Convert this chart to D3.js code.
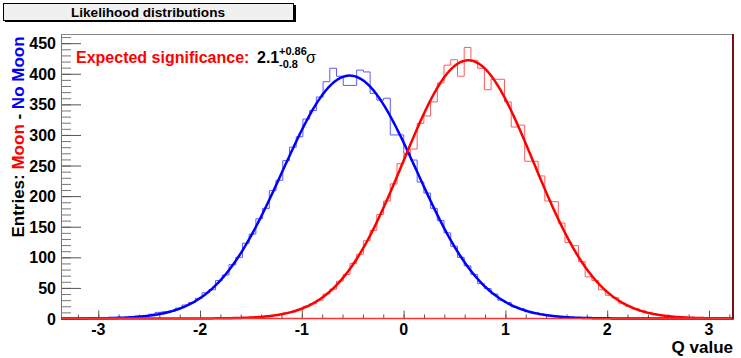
<!DOCTYPE html>
<html lang="en">
<head>
    <meta charset="UTF-8">
    <title>Likelihood distributions</title>
    <script src="https://d3js.org/d3.v7.min.js"></script>
    <style>
        body { margin: 0; background: #fff; }
        text { font-family: "Liberation Sans", Arial, sans-serif; }
    </style>
</head>
<body>
<script>
// axis range and binning (100 bins over the full x range)
var xRange = [-3.366, 3.236]
var yRange = [0, 465]
var nBins = 100

// histogram contents, No Moon (blue) and Moon (red)
var noMoonCounts = [0,0,0,0,0,0,1,1,2,1,3,4,4,7,10,11,12,17,22,26,
    33,42,47,62,71,88,100,123,138,163,180,209,226,258,280,297,326,340,362,387,
    409,396,381,381,406,403,368,357,360,300,300,270,259,223,205,180,160,140,118,100,
    86,72,57,49,40,30,26,19,16,11,9,7,5,4,3,2,1,1,1,0,
    0,0,0,0,0,0,0,0,0,0,0,0,0,0,0,0,0,0,0,0]
var moonCounts = [0,0,0,0,0,0,0,0,0,0,0,0,0,0,0,0,0,0,0,0,
    0,0,0,0,0,0,1,1,2,2,3,5,6,9,11,14,20,24,30,40,
    48,61,72,90,105,127,144,170,192,220,253,268,277,319,331,354,385,414,423,396,
    443,422,409,374,391,391,354,313,316,257,257,233,192,191,156,124,119,93,68,62,
    47,38,34,25,20,16,12,9,7,5,4,3,2,1,1,0,0,0,0,0]

// gaussian fit parameters: constant, mean, sigma
var noMoonFit = [397, -0.53, 0.66]
var moonFit = [422, 0.635, 0.64]

var xTicks = [-3, -2, -1, 0, 1, 2, 3]
var yTicks = [0, 50, 100, 150, 200, 250, 300, 350, 400, 450]

var W = 741, H = 358
var frame = {left: 61, right: 733, top: 34, bottom: 318.5}

var svg = d3.select("body")
    .append("svg")
    .attr("width", W)
    .attr("height", H)

var x = d3.scaleLinear().domain(xRange).range([frame.left, frame.right])
var y = d3.scaleLinear().domain(yRange).range([frame.bottom, frame.top])

//title box
svg.append("rect").attr("x", 5).attr("y", 5).attr("width", 291).attr("height", 17).attr("fill", "#000")
svg.append("rect").attr("x", 3.5).attr("y", 3.5).attr("width", 290).attr("height", 17)
    .attr("fill", "#f0f0f0").attr("stroke", "#000").attr("stroke-width", 1)
svg.append("text").attr("x", 148).attr("y", 17).attr("text-anchor", "middle")
    .attr("font-size", 13.6).attr("font-weight", "bold").text("Likelihood distributions")

//frame top line
svg.append("line").attr("x1", frame.left).attr("x2", frame.right)
    .attr("y1", frame.top + 0.5).attr("y2", frame.top + 0.5)
    .attr("stroke", "#888").attr("stroke-width", 1)

// y axis ticks (pointing inward)
var yAxis = d3.axisRight(y).tickValues(yTicks).tickSize(20).tickFormat("")
var yMinor = d3.axisRight(y).tickValues(d3.range(0, 461, 10)).tickSize(10).tickFormat("")
svg.append("g").attr("transform", "translate(" + frame.left + ",0)").call(yMinor)
    .call(g => g.select(".domain").remove())
    .selectAll("line").attr("stroke", "#777")
svg.append("g").attr("transform", "translate(" + frame.left + ",0)").call(yAxis)
    .call(g => g.select(".domain").remove())
    .selectAll("line").attr("stroke", "#555")
svg.append("line").attr("x1", frame.left + 0.5).attr("x2", frame.left + 0.5)
    .attr("y1", frame.top).attr("y2", frame.bottom).attr("stroke", "#777")

// y tick labels
svg.append("g").selectAll("text").data(yTicks).enter().append("text")
    .attr("x", 56).attr("y", d => y(d) + 6)
    .attr("text-anchor", "end").attr("font-size", 16).attr("font-weight", "bold")
    .text(d => d)

// x axis ticks (pointing up)
var minorX = d3.range(-3.2, 3.21, 0.2).map(v => Math.round(v * 10) / 10)
var xMinor = d3.axisTop(x).tickValues(minorX).tickSize(4).tickFormat("")
var xAxis = d3.axisTop(x).tickValues(xTicks).tickSize(8).tickFormat("")
svg.append("g").attr("transform", "translate(0," + frame.bottom + ")").call(xMinor)
    .call(g => g.select(".domain").remove())
    .selectAll("line").attr("stroke", "#555")
svg.append("g").attr("transform", "translate(0," + frame.bottom + ")").call(xAxis)
    .call(g => g.select(".domain").remove())
    .selectAll("line").attr("stroke", "#555")

svg.append("g").selectAll("text").data(xTicks).enter().append("text")
    .attr("x", d => x(d)).attr("y", 335)
    .attr("text-anchor", "middle").attr("font-size", 16).attr("font-weight", "bold")
    .text(d => d)

svg.append("text").attr("x", 733).attr("y", 353).attr("text-anchor", "end")
    .attr("font-size", 17).attr("font-weight", "bold").text("Q value")

// y title
var ytitle = svg.append("text")
    .attr("transform", "translate(24,137) rotate(-90)")
    .attr("text-anchor", "middle").attr("font-size", 17).attr("font-weight", "bold")
ytitle.append("tspan").attr("fill", "#000").text("Entries: ")
ytitle.append("tspan").attr("fill", "#ff0000").text("Moon")
ytitle.append("tspan").attr("fill", "#000").text(" - ")
ytitle.append("tspan").attr("fill", "#0000ff").text("No Moon")

// histogram as a step outline
var binW = (xRange[1] - xRange[0]) / nBins
function stepPath(counts) {
    var pts = []
    counts.forEach(function(c, i) {
        pts.push([x(xRange[0] + i * binW), y(c)])
        pts.push([x(xRange[0] + (i + 1) * binW), y(c)])
    })
    return d3.line()(pts)
}

function gaus(p) {
    return function(v) { return p[0] * Math.exp(-0.5 * Math.pow((v - p[1]) / p[2], 2)) }
}
function fitPath(p) {
    var f = gaus(p)
    var xs = d3.range(xRange[0], xRange[1], 0.01).concat([xRange[1]])
    return d3.line().x(d => x(d)).y(d => y(f(d)))(xs)
}

svg.append("path").attr("d", stepPath(noMoonCounts))
    .attr("fill", "none").attr("stroke", "#5a5aff").attr("stroke-width", 1)
svg.append("path").attr("d", stepPath(moonCounts))
    .attr("fill", "none").attr("stroke", "#ff5a5a").attr("stroke-width", 1)

svg.append("path").attr("d", fitPath(noMoonFit))
    .attr("fill", "none").attr("stroke", "#0000ff").attr("stroke-width", 2.5)
svg.append("path").attr("d", fitPath(moonFit))
    .attr("fill", "none").attr("stroke", "#ff0000").attr("stroke-width", 2.5)

// x axis line and right edge
svg.append("line").attr("x1", frame.left).attr("x2", frame.right)
    .attr("y1", frame.bottom).attr("y2", frame.bottom).attr("stroke", "#ff3030").attr("stroke-width", 1.5)
svg.append("line").attr("x1", frame.right).attr("x2", frame.right)
    .attr("y1", frame.top).attr("y2", frame.bottom + 1).attr("stroke", "#7a1010").attr("stroke-width", 2)

// significance label
svg.append("text").attr("x", 76).attr("y", 63)
    .attr("font-size", 16).attr("font-weight", "bold").attr("fill", "#ff0000")
    .text("Expected significance:")
svg.append("text").attr("x", 257).attr("y", 63)
    .attr("font-size", 16).attr("font-weight", "bold").attr("fill", "#000").text("2.1")
svg.append("text").attr("x", 279).attr("y", 55).attr("font-size", 11).attr("font-weight", "bold").text("+0.86")
svg.append("text").attr("x", 279).attr("y", 68).attr("font-size", 11).attr("font-weight", "bold").text("-0.8")
svg.append("text").attr("x", 306).attr("y", 63).attr("font-size", 16).text("σ")
</script>
</body>
</html>
